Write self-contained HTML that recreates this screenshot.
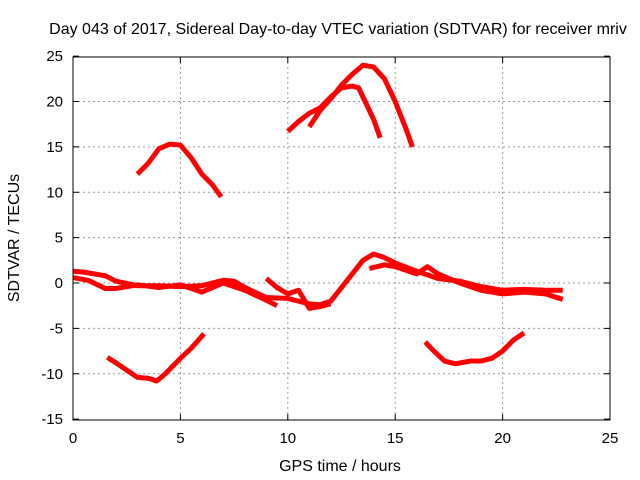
<!DOCTYPE html>
<html><head><meta charset="utf-8"><style>
body{margin:0;background:#fff}
svg{display:block;font-family:"Liberation Sans",sans-serif}
</style></head><body>
<svg id="chart" width="640" height="480">
<text x="338" y="34" font-size="16" text-anchor="middle">Day 043 of 2017, Sidereal Day-to-day VTEC variation (SDTVAR) for receiver mriv</text>
<text x="0" y="0" font-size="16" text-anchor="middle" transform="translate(19,238) rotate(-90)">SDTVAR / TECUs</text>
<text x="340" y="471" font-size="16" text-anchor="middle">GPS time / hours</text>
<g id="grid"></g><g id="marks"></g><g id="axes"></g>
</svg>
<script>
const xTicks=[0,5,10,15,20,25];
const yTicks=[-15,-10,-5,0,5,10,15,20,25];
const arcA=[[3.0,12],[3.5,13.2],[4.0,14.8],[4.5,15.3],[5.0,15.2],[5.5,13.8],[6.0,12],[6.5,10.8],[6.9,9.5]];
const arcB=[[10.0,16.7],[10.5,17.8],[11,18.7],[11.5,19.3],[12,20.5],[12.5,21.5],[13,21.7],[13.3,21.5],[13.6,20],[14,18],[14.3,16]];
const arcC=[[11,17.2],[11.5,19],[12,20.3],[12.5,21.8],[13,23],[13.5,24],[14,23.8],[14.5,22.5],[15,20],[15.5,17],[15.8,15]];
const lowD=[[1.6,-8.2],[2.0,-8.8],[2.5,-9.6],[3.0,-10.4],[3.5,-10.5],[3.9,-10.8],[4.3,-10],[5.0,-8.3],[5.5,-7.2],[6.1,-5.6]];
const lowE=[[16.4,-6.5],[16.8,-7.5],[17.3,-8.6],[17.8,-8.9],[18.5,-8.6],[19,-8.6],[19.5,-8.3],[20,-7.5],[20.5,-6.3],[21,-5.5]];
const band1=[[0,1.3],[0.5,1.2],[1,1.0],[1.5,0.8],[2,0.2],[3,-0.3],[4,-0.3],[5,-0.4],[6,-0.3],[7,0.3],[7.5,0.2],[8,-0.5],[9,-1.6],[10,-1.7],[11,-2.3],[11.5,-2.4],[12,-2],[12.5,-0.5],[13,1],[13.5,2.5],[14,3.2],[14.5,2.8],[15,2.2],[16,1.3],[17,0.5],[18,0.2],[19,-0.4],[20,-0.8],[21,-0.7],[22,-0.8],[22.8,-0.8]];
const band2=[[0,0.6],[0.7,0.3],[1.5,-0.6],[2,-0.6],[3,-0.2],[4,-0.5],[5,-0.2],[6,-1.0],[7,0.0],[8,-0.8],[9,-1.9],[9.5,-2.5]];
const band3=[[9,0.5],[9.5,-0.5],[10,-1.2],[10.5,-0.8],[11,-2.8],[11.5,-2.6],[12,-2.3]];
const band4=[[13.8,1.6],[14.5,2.0],[15,1.8],[16,1.0],[16.5,1.8],[17,1.0],[18,0],[19,-0.8],[20,-1.2],[21,-1.0],[22,-1.2],[22.8,-1.8]];
const X=v=>73+v*21.48, Y=v=>283-v*9.075;
const ns="http://www.w3.org/2000/svg";
const grid=document.getElementById('grid'),axes=document.getElementById('axes'),marks=document.getElementById('marks');
function mk(t,a,p){const e=document.createElementNS(ns,t);for(const k in a)e.setAttribute(k,a[k]);p.appendChild(e);return e;}
xTicks.forEach(t=>{
 if(t>0&&t<25){const g=mk('line',{x1:X(t),x2:X(t),y1:57,y2:420,stroke:'#999','stroke-dasharray':'2,3'},grid);
 
 }
 mk('line',{x1:X(t),x2:X(t),y1:420,y2:414,stroke:'#000'},axes);
 mk('line',{x1:X(t),x2:X(t),y1:57,y2:63,stroke:'#000'},axes);
 const l=mk('text',{x:X(t),y:443,'font-size':15,'text-anchor':'middle'},axes);l.textContent=t;
 
 
});
yTicks.forEach(t=>{
 if(t>-15&&t<25){const g=mk('line',{x1:73,x2:610,y1:Y(t),y2:Y(t),stroke:'#999','stroke-dasharray':'2,3'},grid);
 
 }
 mk('line',{x1:73,x2:79,y1:Y(t),y2:Y(t),stroke:'#000'},axes);
 mk('line',{x1:610,x2:604,y1:Y(t),y2:Y(t),stroke:'#000'},axes);
 const l=mk('text',{x:63,y:Y(t)+5,'font-size':15,'text-anchor':'end'},axes);l.textContent=t;
 
 
});
const fr=mk('rect',{x:73,y:57,width:537,height:363,fill:'none',stroke:'#000'},axes);


[[arcA,'arc-a'],[arcB,'arc-b'],[arcC,'arc-c'],[lowD,'low-d'],[lowE,'low-e'],[band1,'band-1'],[band2,'band-2'],[band3,'band-3'],[band4,'band-4']].forEach(([d,n])=>{
 const p=mk('polyline',{points:d.map(q=>X(q[0])+','+Y(q[1])).join(' '),fill:'none',stroke:'#f00','stroke-width':5,'stroke-linejoin':'round'},marks);
 
 
});
</script>
</body></html>
